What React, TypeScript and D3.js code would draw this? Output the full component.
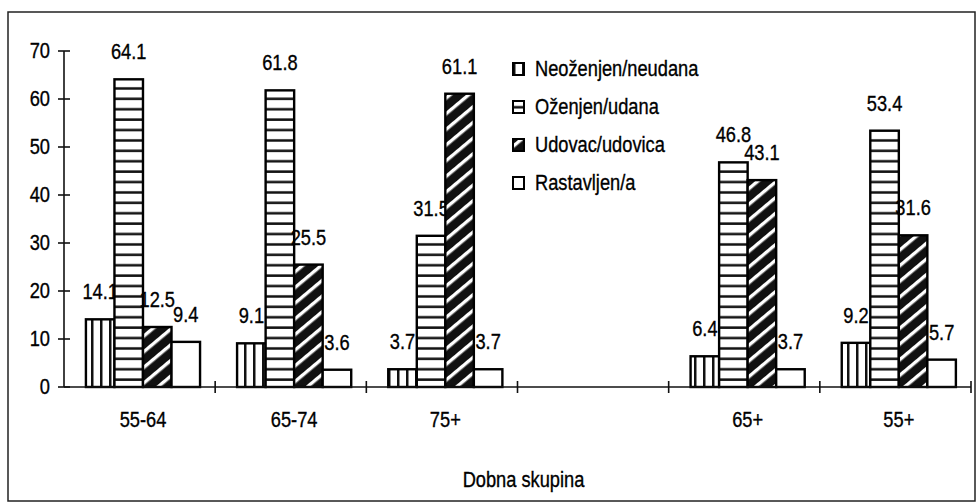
import * as d3 from "d3";
import { useEffect, useRef } from "react";

// age groups (the empty one is the gap that holds the legend)
const categories = ["55-64", "65-74", "75+", "", "65+", "55+"];
const seriesNames = ["Neoženjen/neudana", "Oženjen/udana", "Udovac/udovica", "Rastavljen/a"];

// percentages per series, one value per age group (null = no bar)
const neozenjen = [14.1, 9.1, 3.7, null, 6.4, 9.2];
const ozenjen = [64.1, 61.8, 31.5, null, 46.8, 53.4];
const udovac = [12.5, 25.5, 61.1, null, 43.1, 31.6];
const rastavljen = [9.4, 3.6, 3.7, null, 3.7, 5.7];

const yTicks = [0, 10, 20, 30, 40, 50, 60, 70];
const xTitle = "Dobna skupina";

const FONT = "'Liberation Sans', Arial, sans-serif";
const NARROW = 0.83; // squeeze Liberation Sans to look like Arial Narrow

const App = () => {
  const svgRef = useRef<SVGSVGElement | null>(null);

  useEffect(() => {
    drawChart();
  }, []);

  // narrow text at (x, y)
  const putText = (parent: any, x: number, y: number, s: string, anchor = "start") =>
    parent
      .append("text")
      .attr("transform", `translate(${x},${y}) scale(${NARROW},1)`)
      .attr("text-anchor", anchor)
      .style("font-family", FONT)
      .style("font-size", "22px")
      .attr("fill", "#000")
      .attr("stroke", "#000")
      .attr("stroke-width", 0.35)
      .text(s);

  const drawChart = () => {
    const width = 976;
    const height = 502;
    const svg = d3.select(svgRef.current);
    svg.selectAll("*").remove();

    const values = [neozenjen, ozenjen, udovac, rastavljen];
    const fills = ["url(#pat-vert)", "url(#pat-horiz)", "url(#pat-diag)", "#fff"];

    // patterns
    const defs = svg.append("defs");
    const pv = defs
      .append("pattern")
      .attr("id", "pat-vert")
      .attr("patternUnits", "userSpaceOnUse")
      .attr("width", 9)
      .attr("height", 10);
    pv.append("rect").attr("width", 9).attr("height", 10).attr("fill", "#fff");
    pv.append("rect").attr("x", 0).attr("width", 2.5).attr("height", 10).attr("fill", "#111");

    const ph = defs
      .append("pattern")
      .attr("id", "pat-horiz")
      .attr("patternUnits", "userSpaceOnUse")
      .attr("width", 10)
      .attr("height", 10.4);
    ph.append("rect").attr("width", 10).attr("height", 10.4).attr("fill", "#fff");
    ph.append("rect").attr("y", 5).attr("width", 10).attr("height", 2.5).attr("fill", "#111");

    const pd = defs
      .append("pattern")
      .attr("id", "pat-diag")
      .attr("patternUnits", "userSpaceOnUse")
      .attr("width", 12)
      .attr("height", 12)
      .attr("patternTransform", "rotate(-40)");
    pd.append("rect").attr("width", 12).attr("height", 12).attr("fill", "#111");
    pd.append("rect").attr("x", 0).attr("y", 4).attr("width", 12).attr("height", 3.4).attr("fill", "#fff");

    // outer frame
    svg
      .append("rect")
      .attr("x", 8)
      .attr("y", 12)
      .attr("width", 967)
      .attr("height", 489)
      .attr("fill", "none")
      .attr("stroke", "#222")
      .attr("stroke-width", 1.5);

    const margin = { top: 51, left: 64, right: 5, bottom: 115 };
    const innerWidth = width - margin.left - margin.right;
    const innerHeight = height - margin.top - margin.bottom;

    const g = svg.append("g").attr("transform", `translate(${margin.left},${margin.top})`);

    const x0 = d3.scaleBand().domain(categories.map((c, i) => String(i))).range([0, innerWidth]);
    const x1 = d3
      .scaleBand()
      .domain(seriesNames)
      .range([x0.bandwidth() * 0.145, x0.bandwidth() * 0.9]);
    const y = d3.scaleLinear().domain([0, 70]).range([innerHeight, 0]);

    // bars
    values.forEach((vals, si) => {
      const sname = seriesNames[si];
      const data = vals.map((v, ci) => ({ v, ci })).filter((d) => d.v !== null);
      g.selectAll(`.bar-${si}`)
        .data(data)
        .enter()
        .append("rect")
        .attr("x", (d) => x0(String(d.ci))! + x1(sname)!)
        .attr("y", (d) => y(d.v as number))
        .attr("width", x1.bandwidth())
        .attr("height", (d) => innerHeight - y(d.v as number))
        .attr("fill", fills[si])
        .attr("stroke", "#000")
        .attr("stroke-width", 2.4);

      data.forEach((d) => {
        putText(
          g,
          x0(String(d.ci))! + x1(sname)! + x1.bandwidth() / 2,
          y(d.v as number) - 20,
          (d.v as number).toFixed(1),
          "middle"
        );
      });
    });

    // y axis
    g.append("line")
      .attr("x1", 0)
      .attr("x2", 0)
      .attr("y1", y(70))
      .attr("y2", y(0))
      .attr("stroke", "#111")
      .attr("stroke-width", 1.6);
    g.selectAll(".ytick")
      .data(yTicks)
      .enter()
      .append("line")
      .attr("x1", -6)
      .attr("x2", 6)
      .attr("y1", (d) => y(d))
      .attr("y2", (d) => y(d))
      .attr("stroke", "#111")
      .attr("stroke-width", 1.6);
    yTicks.forEach((t) => putText(g, -14, y(t) + 7, String(t), "end"));

    // x axis
    g.append("line")
      .attr("x1", 0)
      .attr("x2", innerWidth)
      .attr("y1", y(0))
      .attr("y2", y(0))
      .attr("stroke", "#111")
      .attr("stroke-width", 1.6);
    const bounds = categories.map((c, i) => x0(String(i))! + x0.bandwidth());
    g.selectAll(".xtick")
      .data(bounds)
      .enter()
      .append("line")
      .attr("x1", (d) => d)
      .attr("x2", (d) => d)
      .attr("y1", y(0) - 6)
      .attr("y2", y(0) + 6)
      .attr("stroke", "#111")
      .attr("stroke-width", 1.6);
    categories.forEach((c, i) =>
      putText(g, x0(String(i))! + (x1.range()[0] + x1.range()[1]) / 2, y(0) + 40, c, "middle")
    );

    putText(g, innerWidth / 2 + 6, y(0) + 100, xTitle, "middle");

    // legend
    const legend = svg.append("g").attr("transform", "translate(513,63)");
    seriesNames.forEach((name, i) => {
      const row = legend.append("g").attr("transform", `translate(0,${i * 38})`);
      row
        .append("rect")
        .attr("x", 0)
        .attr("y", 0)
        .attr("width", 11)
        .attr("height", 12)
        .attr("fill", fills[i])
        .attr("stroke", "#000")
        .attr("stroke-width", 2);
      putText(row, 22, 13, name);
    });
  };

  return (
    <svg
      ref={svgRef}
      width={976}
      height={502}
      style={{ position: "absolute", left: 0, top: 0, background: "#fff" }}
    />
  );
};

export default App;
